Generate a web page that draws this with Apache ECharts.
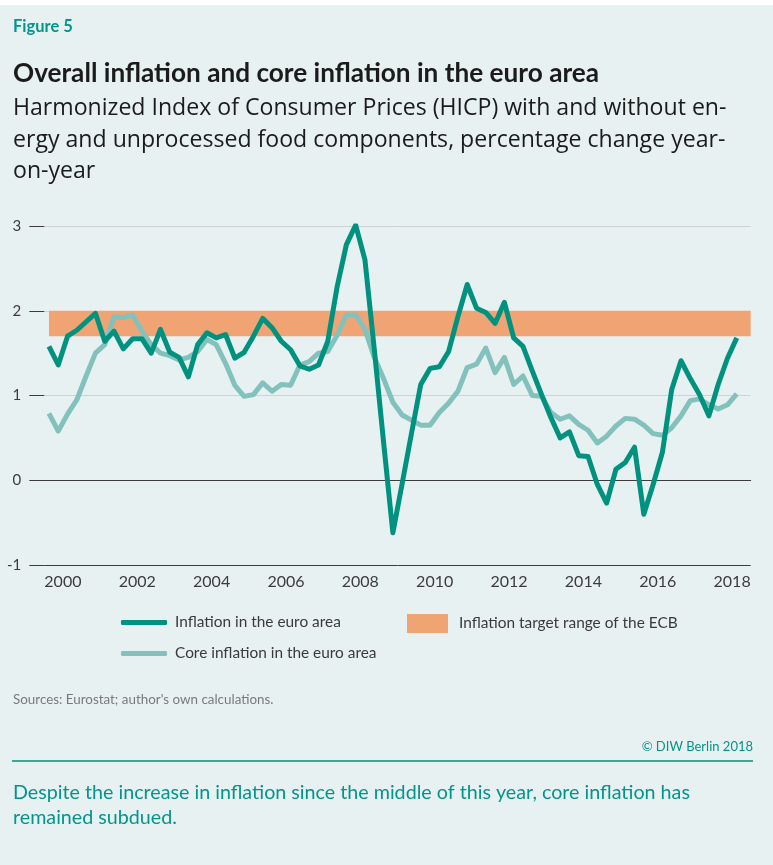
<!DOCTYPE html>
<html>
<head>
<meta charset="utf-8">
<script src="https://cdn.jsdelivr.net/npm/echarts@6/dist/echarts.min.js"></script>
<style>
  html, body { margin: 0; padding: 0; background: #fff; }
  #chart { width: 773px; height: 865px; }
</style>
</head>
<body>
<div id="chart"></div>
<script>
// year categories for the x axis (labels shown every other year)
const years = ['2000', '2001', '2002', '2003', '2004', '2005', '2006', '2007', '2008', '2009',
  '2010', '2011', '2012', '2013', '2014', '2015', '2016', '2017', '2018']

// quarterly values, 2000 Q1 to 2018 Q3, percent year-on-year
const inflation = [
  1.58, 1.36, 1.70, 1.77, 1.87, 1.97, 1.64, 1.76, 1.55, 1.67,
  1.67, 1.50, 1.78, 1.51, 1.45, 1.22, 1.60, 1.74, 1.68, 1.72,
  1.44, 1.51, 1.70, 1.91, 1.80, 1.64, 1.54, 1.35, 1.31, 1.36,
  1.64, 2.28, 2.78, 3.01, 2.60, 1.55, 0.45, -0.62, -0.04, 0.55,
  1.13, 1.32, 1.34, 1.52, 1.93, 2.31, 2.03, 1.98, 1.85, 2.10,
  1.68, 1.58, 1.29, 1.01, 0.74, 0.50, 0.57, 0.29, 0.28, -0.05,
  -0.27, 0.13, 0.21, 0.39, -0.40, -0.05, 0.33, 1.07, 1.41, 1.20,
  1.01, 0.76, 1.13, 1.44, 1.68
]
const coreInflation = [
  0.79, 0.58, 0.78, 0.95, 1.23, 1.50, 1.60, 1.93, 1.92, 1.95,
  1.76, 1.60, 1.50, 1.47, 1.42, 1.45, 1.52, 1.66, 1.60, 1.38,
  1.12, 0.99, 1.01, 1.15, 1.05, 1.13, 1.12, 1.36, 1.40, 1.50,
  1.52, 1.71, 1.95, 1.95, 1.78, 1.45, 1.20, 0.92, 0.77, 0.71,
  0.65, 0.65, 0.80, 0.91, 1.05, 1.33, 1.37, 1.56, 1.27, 1.45,
  1.13, 1.23, 1.00, 0.99, 0.80, 0.72, 0.76, 0.66, 0.59, 0.44,
  0.52, 0.64, 0.73, 0.72, 0.65, 0.55, 0.53, 0.62, 0.76, 0.94,
  0.96, 0.89, 0.84, 0.89, 1.02
]
const targetRange = [1.7, 2.0]
const yMin = -1
const yMax = 3

// quarter i is plotted in the middle of its quarter
const quarterPos = inflation.map((v, i) => 2000 + (i + 0.5) / 4)
const toPairs = (arr) => arr.map((v, i) => [quarterPos[i], v])

const teal = '#00927f'
const lightTeal = '#83c1bc'
const orange = '#f0a473'
const font = 'Lato, "Open Sans", sans-serif'
const fontSub = '"Open Sans", Lato, sans-serif'

const chart = echarts.init(document.getElementById('chart'))

chart.setOption({
  animation: false,
  backgroundColor: '#e8f1f2',
  textStyle: { fontFamily: font },
  grid: { left: 44.3, right: 22.3, top: 226, bottom: 300 },
  xAxis: [
    {
      type: 'category',
      data: years,
      boundaryGap: true,
      axisLine: { lineStyle: { color: '#3c3c3c', width: 1 } },
      axisTick: { interval: 0, length: 8, lineStyle: { color: '#3c3c3c' } },
      axisLabel: { interval: 1, color: '#3c3c3c', fontSize: 16, margin: 9, fontFamily: font },
      splitLine: { show: false }
    },
    {
      type: 'value',
      min: 2000,
      max: 2019,
      show: false
    }
  ],
  yAxis: {
    type: 'value',
    min: yMin,
    max: yMax,
    interval: 1,
    axisLine: { show: false },
    axisTick: { show: true, length: 15, lineStyle: { color: '#3c3c3c' } },
    axisLabel: { color: '#3c3c3c', fontSize: 15, margin: 23, fontFamily: font },
    splitLine: {
      lineStyle: { color: ['#3c3c3c', '#3c3c3c', '#cdd3d5', '#cdd3d5', '#cdd3d5'], width: 1 }
    }
  },
  legend: [
    {
      data: ['Inflation in the euro area'],
      left: 121, top: 615, padding: 0,
      icon: 'roundRect', itemWidth: 46, itemHeight: 5,
      textStyle: { fontSize: 15.4, color: '#3a3a3a', padding: [0, 0, 0, 3] }
    },
    {
      data: ['Core inflation in the euro area'],
      left: 121, top: 646, padding: 0,
      icon: 'roundRect', itemWidth: 46, itemHeight: 5,
      textStyle: { fontSize: 15.4, color: '#3a3a3a', padding: [0, 0, 0, 3] }
    },
    {
      data: ['Inflation target range of the ECB'],
      left: 407, top: 614, padding: 0,
      icon: 'rect', itemWidth: 41, itemHeight: 19,
      textStyle: { fontSize: 15.4, color: '#3a3a3a', padding: [0, 0, 0, 6] }
    }
  ],
  series: [
    {
      name: 'Inflation target range of the ECB',
      type: 'line',
      xAxisIndex: 1,
      data: [],
      z: 1,
      itemStyle: { color: orange },
      lineStyle: { color: orange },
      markArea: {
        silent: true,
        itemStyle: { color: orange, opacity: 1 },
        data: [[
          { xAxis: quarterPos[0], yAxis: targetRange[0] },
          { xAxis: 2019, yAxis: targetRange[1] }
        ]]
      }
    },
    {
      name: 'Core inflation in the euro area',
      type: 'line',
      xAxisIndex: 1,
      data: toPairs(coreInflation),
      showSymbol: false,
      z: 2,
      itemStyle: { color: lightTeal },
      lineStyle: { color: lightTeal, width: 5, join: 'round' }
    },
    {
      name: 'Inflation in the euro area',
      type: 'line',
      xAxisIndex: 1,
      data: toPairs(inflation),
      showSymbol: false,
      z: 3,
      itemStyle: { color: teal },
      lineStyle: { color: teal, width: 5, join: 'round' }
    }
  ],
  graphic: [
    { type: 'rect', left: 0, top: 0, shape: { width: 773, height: 5 }, style: { fill: '#ffffff' } },
    {
      type: 'text', left: 13, top: 18,
      style: { text: 'Figure 5', font: 'bold 16.5px ' + font, fill: '#00968a' }
    },
    {
      type: 'text', left: 13, top: 61,
      style: { text: 'Overall inflation and core inflation in the euro area', font: 'bold 26.2px ' + font, fill: '#1b1b1b' }
    },
    {
      type: 'text', left: 13, top: 93,
      style: {
        text: 'Harmonized Index of Consumer Prices (HICP) with and without en-\nergy and unprocessed food components, percentage change year-\non-year',
        font: '23.1px ' + fontSub, fill: '#1b1b1b', lineHeight: 31.5
      }
    },
    {
      type: 'text', left: 13, top: 693,
      style: { text: 'Sources: Eurostat; author\'s own calculations.', font: '13.4px ' + font, fill: '#7a7a7a' }
    },
    {
      type: 'text', right: 20, top: 740,
      style: { text: '\u00a9 DIW Berlin 2018', font: '13px ' + font, fill: '#00968a' }
    },
    {
      type: 'rect', left: 12, top: 760, shape: { width: 741, height: 2 }, style: { fill: '#3aa79c' }
    },
    {
      type: 'text', left: 13, top: 780,
      style: {
        text: 'Despite the increase in inflation since the middle of this year, core inflation has\nremained subdued.',
        font: '19.7px ' + font, fill: '#00968a', lineHeight: 25
      }
    }
  ]
})
</script>
</body>
</html>
